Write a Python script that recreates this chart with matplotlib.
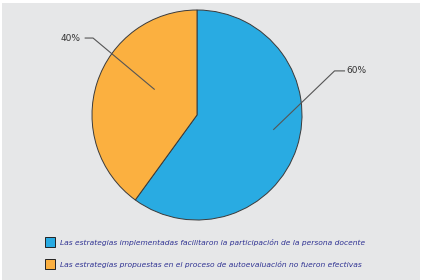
import numpy as np
import matplotlib.pyplot as plt
from matplotlib.patches import Rectangle

# ===================================================
# DATA
# ===================================================

labels = [
    "Las estrategias implementadas facilitaron la participación de la persona docente",
    "Las estrategias propuestas en el proceso de autoevaluación no fueron efectivas",
]
values = [60, 40]
pct_text = ["60%", "40%"]
colors = ["#29abe2", "#fbb040"]

# ===================================================
# FIGURE
# ===================================================

W, H = 424, 280
fig = plt.figure(figsize=(W / 100, H / 100), dpi=100)
fig.patch.set_facecolor("white")

fig.patches.append(
    Rectangle((2 / W, 0), 418 / W, 277 / H, transform=fig.transFigure,
              facecolor="#e6e7e8", edgecolor="none", zorder=-5)
)

ax = fig.add_axes([0, 0, 1, 1])
ax.set_facecolor("none")
ax.set_zorder(1)

# pie center at (197, 115) px, radius 105 px
R = 105.0
cx, cy = 197.0, 115.0

wedges, _ = ax.pie(
    values,
    colors=colors,
    startangle=90,
    counterclock=False,
    radius=1,
    wedgeprops=dict(edgecolor="#3a3a3a", linewidth=0.7),
)

ax.set_xlim(-cx / R, (W - cx) / R)
ax.set_ylim(-(H - cy) / R, cy / R)
ax.set_aspect("auto")
ax.axis("off")

# ===================================================
# LABEL LEADERS
# ===================================================

# (angle offset, inner radius, elbow x, elbow end x, label y, text x)
leaders = [
    (7, 0.74, 1.31, 1.41, 0.42, 1.52),
    (-13, 0.47, -0.99, -1.07, 0.733, -1.20),
]

for w, txt, (da, rin, ex, ex2, ly, tx) in zip(wedges, pct_text, leaders):
    mid = np.deg2rad((w.theta1 + w.theta2) / 2 + da)
    px, py = rin * np.cos(mid), rin * np.sin(mid)
    ax.plot([px, ex, ex2], [py, ly, ly], color="#555555", lw=0.8,
            solid_capstyle="butt")
    ax.text(tx, ly, txt, ha="center", va="center", fontsize=6.5,
            color="#333333", family="DejaVu Sans")

# ===================================================
# LEGEND
# ===================================================

for i, (lab, col) in enumerate(zip(labels, colors)):
    ytop = 237 + i * 22
    fig.patches.append(
        Rectangle((45 / W, 1 - (ytop + 10) / H), 10 / W, 10 / H,
                  transform=fig.transFigure, facecolor=col,
                  edgecolor="#222222", linewidth=0.7)
    )
    fig.text(60 / W, 1 - (ytop + 5) / H, lab, ha="left", va="center",
             fontsize=5.4, style="italic", color="#2e3192",
             family="DejaVu Sans")

fig.savefig("out.png", dpi=100)
